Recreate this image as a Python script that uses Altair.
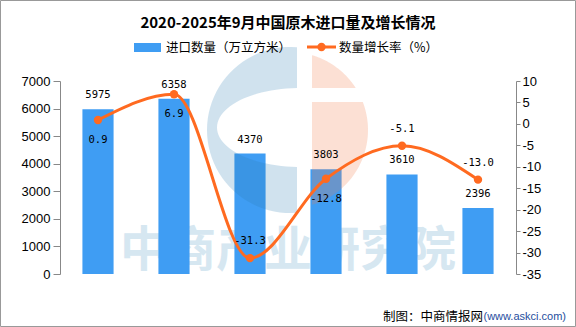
import math
import altair as alt
import pandas as pd

# ---------------- data ----------------
years = ["2020年", "2021年", "2022年", "2023年", "2024年", "2025年1-9月"]
qty = [5975, 6358, 4370, 3803, 3610, 2396]
growth = [0.9, 6.9, -31.3, -12.8, -5.1, -13.0]
left_ticks = [0, 1000, 2000, 3000, 4000, 5000, 6000, 7000]
right_ticks = [10, 5, 0, -5, -10, -15, -20, -25, -30, -35]
below_labels = ["2020年", "2021年", "2023年"]

title_text = "2020-2025年9月中国原木进口量及增长情况"
legend_bar = "进口数量（万立方米）"
legend_line = "数量增长率（%）"
source_main = "制图：中商情报网"
source_url = "(www.askci.com)"
watermark = "中商产业研究院"

BAR = "#3F9DF3"
LINE = "#FF6A20"
CJK = "Noto Sans CJK SC"
NUM = "DejaVu Sans Mono"

df = pd.DataFrame({"year": years, "qty": qty, "growth": growth})
df["glabel"] = [f"{v:.1f}" for v in growth]
df["pos"] = ["below" if y in below_labels else "above" for y in years]

one = pd.DataFrame({"t": [""]})

xenc = alt.X(
    "year:N", sort=years,
    scale=alt.Scale(paddingInner=0.59, paddingOuter=0.295),
    axis=alt.Axis(title=None, labelAngle=0, tickBand="extent", tickSize=6,
                  labelPadding=3, labelFont=CJK, labelFontSize=12,
                  labelColor="#000", domainColor="#888", tickColor="#888"),
)
xnone = alt.X("year:N", sort=years,
              scale=alt.Scale(paddingInner=0.59, paddingOuter=0.295), axis=None)

yq = alt.Scale(domain=[0, 7000])
yg = alt.Scale(domain=[-35, 10])

# ---------------- logo paths (decoration) ----------------
def pts_circle(r, a0, a1, n=48):
    return [(r * math.cos(a0 + (a1 - a0) * i / n), r * math.sin(a0 + (a1 - a0) * i / n))
            for i in range(n + 1)]

def pts_ellipse(cx, cy, rx, ry, u0, u1, n=48):
    return [(cx + rx * math.cos(u0 + (u1 - u0) * i / n), cy + ry * math.sin(u0 + (u1 - u0) * i / n))
            for i in range(n + 1)]

def to_path(pts):
    return "M " + " L ".join(f"{x:.2f} {y:.2f}" for x, y in pts) + " Z"

# blue crescent
R1 = 83
xe = 7
t0 = math.atan2(-math.sqrt(R1 ** 2 - xe ** 2), xe)
outer = pts_circle(R1, t0, -2 * math.pi - t0)
ecx, ecy, erx, ery = 10, -2.5, 83, 39.5
u0 = math.acos((xe - ecx) / erx)
inner = pts_ellipse(ecx, ecy, erx, ery, u0, 2 * math.pi - u0)
blue_path = to_path(outer + inner)

# pink pieces
R2 = 78
xg = 22
ta = math.atan2(-math.sqrt(R2 ** 2 - xg ** 2), xg)
tb = math.asin(-42 / R2)
top_piece = pts_circle(R2, ta, tb) + [(xg, -42)]
tc = math.asin(-28 / R2)
td = math.atan2(math.sqrt(R2 ** 2 - xg ** 2), xg)
bot_piece = pts_circle(R2, tc, td) + [(xg, -28)]
pink_path = to_path(top_piece) + " " + to_path(bot_piece)

LX, LY = 230, 49

# ---------------- layers ----------------
wm = alt.Chart(one).mark_text(
    text=watermark, font=CJK, fontSize=48, fontWeight="bold", color="#d6e7f1",
    align="center", baseline="middle"
).encode(x=alt.value(228), y=alt.value(171))

bars = alt.Chart(df).mark_bar(color=BAR).encode(
    x=xenc,
    y=alt.Y("qty:Q", scale=yq,
            axis=alt.Axis(title=None, values=left_ticks, grid=False, tickSize=7,
                          labelPadding=3, labelFont="Liberation Sans", labelFontSize=13,
                          labelColor="#000", domainColor="#888", tickColor="#888",
                          labelExpr="toString(datum.value)")),
)

logo_blue = alt.Chart(one).mark_point(
    shape=blue_path, size=4, filled=True, fill="#297BB2", opacity=0.22, strokeWidth=0
).encode(x=alt.value(LX), y=alt.value(LY))
logo_pink = alt.Chart(one).mark_point(
    shape=pink_path, size=4, filled=True, fill="#F27E4C", opacity=0.24, strokeWidth=0
).encode(x=alt.value(LX), y=alt.value(LY))

bar_labels = alt.Chart(df).mark_text(
    font=NUM, fontSize=10.5, color="#000", baseline="middle", dy=-14
).encode(x=xnone, y=alt.Y("qty:Q", scale=yq, axis=None), text="qty:Q")

line = alt.Chart(df).mark_line(color=LINE, strokeWidth=3, interpolate="monotone").encode(
    x=xnone,
    y=alt.Y("growth:Q", scale=yg,
            axis=alt.Axis(title=None, orient="right", values=right_ticks, grid=False,
                          tickSize=4, labelPadding=2, labelFont="Liberation Sans",
                          labelFontSize=13, labelColor="#000", domainColor="#888",
                          tickColor="#888", labelExpr="toString(datum.value)")),
)
pts = alt.Chart(df).mark_point(filled=True, color=LINE, size=70, opacity=1).encode(
    x=xnone, y=alt.Y("growth:Q", scale=yg, axis=None))

lab_below = alt.Chart(df).transform_filter(alt.datum.pos == "below").mark_text(
    font=NUM, fontSize=10.5, color="#000", baseline="middle", dy=20
).encode(x=xnone, y=alt.Y("growth:Q", scale=yg, axis=None), text="glabel:N")
lab_above = alt.Chart(df).transform_filter(alt.datum.pos == "above").mark_text(
    font=NUM, fontSize=10.5, color="#000", baseline="middle", dy=-17
).encode(x=xnone, y=alt.Y("growth:Q", scale=yg, axis=None), text="glabel:N")

title = alt.Chart(one).mark_text(
    text=title_text, font=CJK, fontSize=15, fontWeight="bold", color="#000",
    align="center", baseline="middle"
).encode(x=alt.value(228), y=alt.value(-58))

leg_rect = alt.Chart(one).mark_rect(color=BAR).encode(
    x=alt.value(74), x2=alt.value(101), y=alt.value(-38), y2=alt.value(-29))
leg_t1 = alt.Chart(one).mark_text(
    text=legend_bar, font=CJK, fontSize=12.5, color="#000", align="left", baseline="middle"
).encode(x=alt.value(106), y=alt.value(-33))
leg_rule = alt.Chart(one).mark_rule(color=LINE, strokeWidth=3).encode(
    x=alt.value(247), x2=alt.value(276), y=alt.value(-34))
leg_pt = alt.Chart(one).mark_point(filled=True, color=LINE, size=70, opacity=1).encode(
    x=alt.value(261.5), y=alt.value(-34))
leg_t2 = alt.Chart(one).mark_text(
    text=legend_line, font=CJK, fontSize=12.5, color="#000", align="left", baseline="middle"
).encode(x=alt.value(279), y=alt.value(-33))

src1 = alt.Chart(one).mark_text(
    text=source_main, font=CJK, fontSize=12.5, color="#000", align="right", baseline="middle"
).encode(x=alt.value(423), y=alt.value(236))
src2 = alt.Chart(one).mark_text(
    text=source_url, font="Liberation Sans", fontSize=11, color="#1F4E9E",
    align="right", baseline="middle"
).encode(x=alt.value(506), y=alt.value(236))

border = alt.Chart(one).mark_rect(fillOpacity=0, stroke="#999", strokeWidth=1).encode(
    x=alt.value(-59.5), x2=alt.value(515.5), y=alt.value(-80.5), y2=alt.value(245.5))

chart = alt.layer(
    wm, bars, logo_blue, logo_pink, bar_labels, line, pts, lab_below, lab_above,
    title, leg_rect, leg_t1, leg_rule, leg_pt, leg_t2, src1, src2, border
).resolve_scale(y="independent").properties(
    width=456, height=193,
    autosize=alt.AutoSizeParams(type="none"),
    padding={"left": 60, "top": 81, "right": 60, "bottom": 53},
    background="white",
).configure_view(stroke="transparent")

chart.save("out.html", embed_options={"renderer": "svg", "actions": False})
